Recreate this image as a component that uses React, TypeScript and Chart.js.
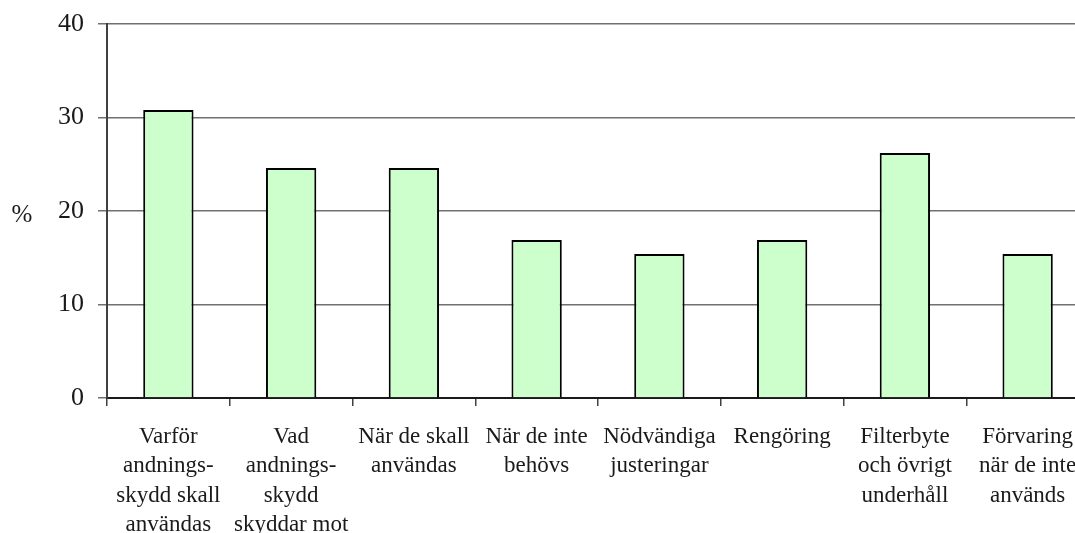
import React, { useEffect, useRef } from "react";
import { Chart, registerables } from "chart.js";

Chart.register(...registerables);

const categories: string[][] = [
  ["Varför", "andnings-", "skydd skall", "användas"],
  ["Vad", "andnings-", "skydd", "skyddar mot"],
  ["När de skall", "användas"],
  ["När de inte", "behövs"],
  ["Nödvändiga", "justeringar"],
  ["Rengöring"],
  ["Filterbyte", "och övrigt", "underhåll"],
  ["Förvaring", "när de inte", "används"],
];
const values: number[] = [30.8, 24.6, 24.6, 16.9, 15.4, 16.9, 26.2, 15.4];
const yTitle = "%";
const yMin = 0;
const yMax = 40;
const yStep = 10;

const FONT = '"Liberation Serif", "Times New Roman", serif';
const CANVAS_W = 1100;
const CANVAS_H = 560;

const percentLabel = {
  id: "percentLabel",
  afterDraw(chart: any) {
    const { ctx, chartArea } = chart;
    ctx.save();
    ctx.font = `25px ${FONT}`;
    ctx.fillStyle = "#1a1a1a";
    ctx.textAlign = "center";
    ctx.textBaseline = "middle";
    ctx.fillText(yTitle, chartArea.left - 85, (chartArea.top + chartArea.bottom) / 2 + 4);
    ctx.restore();
  },
};

export default function App() {
  const ref = useRef<HTMLCanvasElement | null>(null);
  useEffect(() => {
    if (!ref.current) return;
    const chart = new Chart(ref.current, {
      type: "bar",
      data: {
        labels: categories,
        datasets: [
          {
            data: values,
            backgroundColor: "#CCFFCC",
            borderColor: "#000000",
            borderWidth: 2,
            barPercentage: 0.41,
            categoryPercentage: 1,
          },
        ],
      },
      options: {
        responsive: false,
        animation: false,
        layout: { padding: { top: 24, right: 11, bottom: 0, left: 0 } },
        plugins: {
          legend: { display: false },
          tooltip: { enabled: false },
          title: { display: false },
        },
        scales: {
          x: {
            type: "category",
            offset: true,
            grid: {
              offset: true,
              drawOnChartArea: false,
              drawTicks: true,
              tickLength: 8,
              color: "#404040",
              lineWidth: 1.5,
            },
            border: { color: "#1a1a1a", width: 2 },
            ticks: {
              maxRotation: 0,
              minRotation: 0,
              autoSkip: false,
              padding: 16,
              color: "#1a1a1a",
              font: { family: FONT, size: 23, lineHeight: 1.28 },
            },
            afterFit(scale: any) {
              scale.height = CANVAS_H - 398;
            },
          },
          y: {
            min: yMin,
            max: yMax,
            ticks: {
              stepSize: yStep,
              padding: 14,
              color: "#1a1a1a",
              font: { family: FONT, size: 26 },
            },
            grid: {
              color: "#707070",
              lineWidth: 1.5,
              tickLength: 9,
            },
            border: { color: "#404040", width: 2 },
            afterFit(scale: any) {
              scale.width = 107;
              scale.paddingTop = 0;
              scale.paddingBottom = 0;
            },
          },
        },
      },
      plugins: [percentLabel],
    });
    return () => chart.destroy();
  }, []);

  return (
    <div
      style={{
        position: "fixed",
        left: 0,
        top: 0,
        width: 1075,
        height: 533,
        overflow: "hidden",
        background: "#ffffff",
      }}
    >
      <canvas ref={ref} width={CANVAS_W} height={CANVAS_H} style={{ display: "block" }} />
    </div>
  );
}
